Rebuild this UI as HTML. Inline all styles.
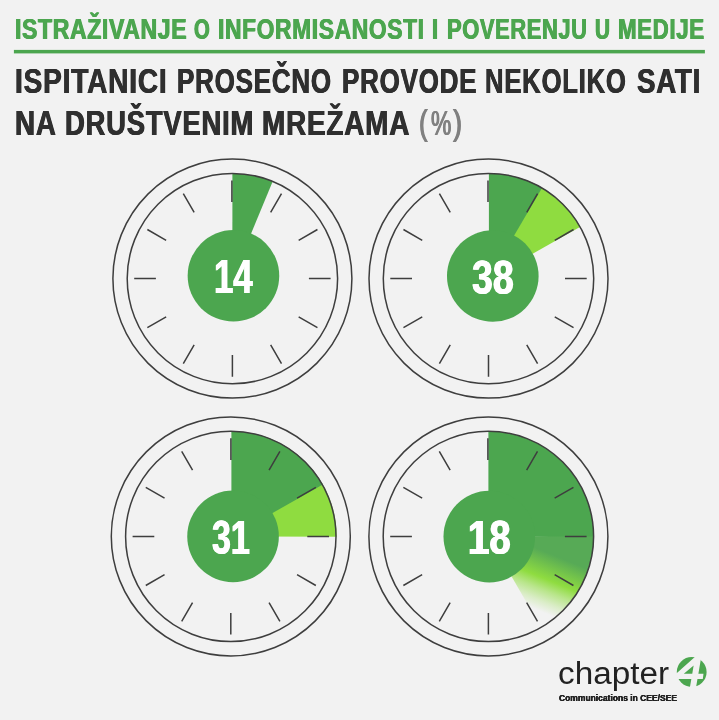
<!DOCTYPE html>
<html lang="sr">
<head>
<meta charset="utf-8">
<title>Istraživanje o informisanosti i poverenju u medije</title>
<style>
html,body{margin:0;padding:0;background:#f2f2f2;}
body{position:relative;width:719px;height:720px;overflow:hidden;font-family:'Liberation Sans', sans-serif;}
svg{position:absolute;left:0;top:0;display:block;}
.t{position:absolute;white-space:nowrap;line-height:1;transform-origin:0 0;margin:0;padding:0;}
</style>
</head>
<body>
<svg width="719" height="720" viewBox="0 0 719 720">
<rect width="719" height="720" fill="#f2f2f2"/>
<rect x="13.9" y="49.9" width="691" height="3.5" fill="#4ca64f"/>

<g>
<path d="M232.40 278.60L232.40 173.40A105.2 105.2 0 0 1 272.66 181.41Z" fill="#4ca64f" />
<path d="M231.90 202.10L231.90 180.40M270.65 212.35L281.50 193.56M298.65 240.35L317.44 229.50M308.90 278.60L330.60 278.60M298.65 316.85L317.44 327.70M270.65 344.85L281.50 363.64M232.40 355.10L232.40 376.80M194.15 344.85L183.30 363.64M166.15 316.85L147.36 327.70M155.90 278.60L134.20 278.60M166.15 240.35L147.36 229.50M194.15 212.35L183.30 193.56" stroke="#3e3e3e" stroke-width="1.5" fill="none"/>
<circle cx="232.4" cy="278.6" r="119.5" fill="none" stroke="#3e3e3e" stroke-width="1.5"/>
<circle cx="232.4" cy="278.6" r="105.2" fill="none" stroke="#3e3e3e" stroke-width="1.5"/>
<circle cx="233.45" cy="275.8" r="45.8" fill="#4ca64f"/>
</g>
<g>
<path d="M488.90 278.60L540.70 187.04A105.2 105.2 0 0 1 580.37 226.64Z" fill="#8fdc40" />
<path d="M488.90 278.60L488.90 173.40A105.2 105.2 0 0 1 542.13 187.86Z" fill="#4ca64f" />
<path d="M488.00 202.10L488.00 180.40M526.75 212.35L537.60 193.56M554.75 240.35L573.54 229.50M565.00 278.60L586.70 278.60M554.75 316.85L573.54 327.70M526.75 344.85L537.60 363.64M488.50 355.10L488.50 376.80M450.25 344.85L439.40 363.64M422.25 316.85L403.46 327.70M412.00 278.60L390.30 278.60M422.25 240.35L403.46 229.50M450.25 212.35L439.40 193.56" stroke="#3e3e3e" stroke-width="1.5" fill="none"/>
<circle cx="488.5" cy="278.6" r="119.5" fill="none" stroke="#3e3e3e" stroke-width="1.5"/>
<circle cx="488.5" cy="278.6" r="105.2" fill="none" stroke="#3e3e3e" stroke-width="1.5"/>
<circle cx="492.8" cy="276.0" r="45.8" fill="#4ca64f"/>
</g>
<g>
<path d="M231.40 536.40L322.04 483.01A105.2 105.2 0 0 1 336.60 536.77Z" fill="#8fdc40" />
<path d="M231.40 536.40L231.40 431.20A105.2 105.2 0 0 1 322.87 484.44Z" fill="#4ca64f" />
<path d="M230.90 459.90L230.90 438.20M269.05 470.15L279.90 451.36M297.05 498.15L315.84 487.30M307.30 536.40L329.00 536.40M297.05 574.65L315.84 585.50M269.05 602.65L279.90 621.44M230.80 612.90L230.80 634.60M192.55 602.65L181.70 621.44M164.55 574.65L145.76 585.50M154.30 536.40L132.60 536.40M164.55 498.15L145.76 487.30M192.55 470.15L181.70 451.36" stroke="#3e3e3e" stroke-width="1.5" fill="none"/>
<circle cx="230.8" cy="536.4" r="119.5" fill="none" stroke="#3e3e3e" stroke-width="1.5"/>
<circle cx="230.8" cy="536.4" r="105.2" fill="none" stroke="#3e3e3e" stroke-width="1.5"/>
<circle cx="233.05" cy="536.4" r="45.8" fill="#4ca64f"/>
</g>
<defs><linearGradient id="g4" gradientUnits="userSpaceOnUse" x1="492.15" y1="527.13" x2="469.67" y2="582.76">
<stop offset="0" stop-color="#57aa56"/>
<stop offset="0.050" stop-color="#57aa56"/>
<stop offset="0.467" stop-color="#8fdc40"/>
<stop offset="0.650" stop-color="#8fdc40" stop-opacity="0.58"/>
<stop offset="0.833" stop-color="#8fdc40" stop-opacity="0.24"/>
<stop offset="1" stop-color="#8fdc40" stop-opacity="0"/>
</linearGradient></defs>
<g>
<path d="M488.40 536.40L488.40 431.20A105.2 105.2 0 0 1 593.59 537.50Z" fill="#4ca64f" />
<path d="M488.40 536.40L593.60 536.40A105.2 105.2 0 0 1 541.00 627.51Z" fill="url(#g4)" />
<path d="M487.90 459.90L487.90 438.20M526.65 470.15L537.50 451.36M554.65 498.15L573.44 487.30M564.90 536.40L586.60 536.40M554.65 574.65L573.44 585.50M526.65 602.65L537.50 621.44M488.40 612.90L488.40 634.60M450.15 602.65L439.30 621.44M422.15 574.65L403.36 585.50M411.90 536.40L390.20 536.40M422.15 498.15L403.36 487.30M450.15 470.15L439.30 451.36" stroke="#3e3e3e" stroke-width="1.5" fill="none"/>
<circle cx="488.4" cy="536.4" r="119.5" fill="none" stroke="#3e3e3e" stroke-width="1.5"/>
<circle cx="488.4" cy="536.4" r="105.2" fill="none" stroke="#3e3e3e" stroke-width="1.5"/>
<circle cx="489.3" cy="536.6" r="45.8" fill="#4ca64f"/>
</g>
<g>
<circle cx="691.7" cy="672.0" r="14.9" fill="#4ca64f"/>
<polygon points="695.11,656.83 701.26,656.83 698.39,673.65 703.48,673.65 702.82,678.98 697.46,678.98 695.93,688.01 689.78,688.01 691.34,678.98 677.64,678.98 676.05,673.65" fill="#f2f2f2"/>
<polygon points="693.63,665.45 683.79,673.65 692.24,673.65" fill="#4ca64f"/>
</g>
</svg>
<div class="t" style="left:14.89px;top:13.70px;font-size:29.3px;font-weight:700;color:#4ca64f;transform:scaleX(0.7861);text-shadow:0.55px 0 0 #4ca64f,-0.55px 0 0 #4ca64f;letter-spacing:0.8px;">ISTRAŽIVANJE</div>
<div class="t" style="left:194.35px;top:13.70px;font-size:29.3px;font-weight:700;color:#4ca64f;transform:scaleX(0.6905);text-shadow:0.55px 0 0 #4ca64f,-0.55px 0 0 #4ca64f;letter-spacing:0.8px;">O</div>
<div class="t" style="left:218.10px;top:13.70px;font-size:29.3px;font-weight:700;color:#4ca64f;transform:scaleX(0.7794);text-shadow:0.55px 0 0 #4ca64f,-0.55px 0 0 #4ca64f;letter-spacing:0.8px;">INFORMISANOSTI</div>
<div class="t" style="left:432.25px;top:13.70px;font-size:29.3px;font-weight:700;color:#4ca64f;transform:scaleX(0.7397);text-shadow:0.55px 0 0 #4ca64f,-0.55px 0 0 #4ca64f;letter-spacing:0.8px;">I</div>
<div class="t" style="left:446.74px;top:13.70px;font-size:29.3px;font-weight:700;color:#4ca64f;transform:scaleX(0.7484);text-shadow:0.55px 0 0 #4ca64f,-0.55px 0 0 #4ca64f;letter-spacing:0.8px;">POVERENJU</div>
<div class="t" style="left:594.92px;top:13.70px;font-size:29.3px;font-weight:700;color:#4ca64f;transform:scaleX(0.7057);text-shadow:0.55px 0 0 #4ca64f,-0.55px 0 0 #4ca64f;letter-spacing:0.8px;">U</div>
<div class="t" style="left:618.12px;top:13.70px;font-size:29.3px;font-weight:700;color:#4ca64f;transform:scaleX(0.7618);text-shadow:0.55px 0 0 #4ca64f,-0.55px 0 0 #4ca64f;letter-spacing:0.8px;">MEDIJE</div>
<div class="t" style="left:15.05px;top:64.21px;font-size:34.6px;font-weight:700;color:#2f2f2f;transform:scaleX(0.8112);text-shadow:0.5px 0 0 #2f2f2f,-0.5px 0 0 #2f2f2f;letter-spacing:1.0px;">ISPITANICI</div>
<div class="t" style="left:176.75px;top:64.21px;font-size:34.6px;font-weight:700;color:#2f2f2f;transform:scaleX(0.7521);text-shadow:0.5px 0 0 #2f2f2f,-0.5px 0 0 #2f2f2f;letter-spacing:1.0px;">PROSEČNO</div>
<div class="t" style="left:341.55px;top:64.21px;font-size:34.6px;font-weight:700;color:#2f2f2f;transform:scaleX(0.7516);text-shadow:0.5px 0 0 #2f2f2f,-0.5px 0 0 #2f2f2f;letter-spacing:1.0px;">PROVODE</div>
<div class="t" style="left:485.46px;top:64.21px;font-size:34.6px;font-weight:700;color:#2f2f2f;transform:scaleX(0.7435);text-shadow:0.5px 0 0 #2f2f2f,-0.5px 0 0 #2f2f2f;letter-spacing:1.0px;">NEKOLIKO</div>
<div class="t" style="left:636.67px;top:64.21px;font-size:34.6px;font-weight:700;color:#2f2f2f;transform:scaleX(0.7996);text-shadow:0.5px 0 0 #2f2f2f,-0.5px 0 0 #2f2f2f;letter-spacing:1.0px;">SATI</div>
<div class="t" style="left:15.06px;top:105.71px;font-size:34.6px;font-weight:700;color:#2f2f2f;transform:scaleX(0.8036);text-shadow:0.5px 0 0 #2f2f2f,-0.5px 0 0 #2f2f2f;letter-spacing:1.0px;">NA</div>
<div class="t" style="left:64.68px;top:105.71px;font-size:34.6px;font-weight:700;color:#2f2f2f;transform:scaleX(0.7926);text-shadow:0.5px 0 0 #2f2f2f,-0.5px 0 0 #2f2f2f;letter-spacing:1.0px;">DRUŠTVENIM</div>
<div class="t" style="left:262.46px;top:105.71px;font-size:34.6px;font-weight:700;color:#2f2f2f;transform:scaleX(0.8066);text-shadow:0.5px 0 0 #2f2f2f,-0.5px 0 0 #2f2f2f;letter-spacing:1.0px;">MREŽAMA</div>
<div class="t" style="left:0;top:0"><span class="t" style="left:419.45px;top:105.71px;font-size:34.6px;font-weight:400;color:#808080;transform:scaleX(0.7548);text-shadow:0.5px 0 0 #808080,-0.5px 0 0 #808080;">(</span><span class="t" style="left:430.58px;top:105.71px;font-size:34.6px;font-weight:400;color:#808080;transform:scaleX(0.6599);text-shadow:0.6px 0 0 #808080,-0.6px 0 0 #808080;">%</span><span class="t" style="left:452.90px;top:105.71px;font-size:34.6px;font-weight:400;color:#808080;transform:scaleX(0.7921);text-shadow:0.5px 0 0 #808080,-0.5px 0 0 #808080;">)</span></div>
<div class="t" style="left:213.70px;top:251.92px;font-size:49.0px;font-weight:700;color:#fff;transform:scaleX(0.7085);text-shadow:0.8px 0 0 #fff,-0.8px 0 0 #fff;">14</div>
<div class="t" style="left:471.93px;top:253.32px;font-size:49.0px;font-weight:700;color:#fff;transform:scaleX(0.7650);text-shadow:0.8px 0 0 #fff,-0.8px 0 0 #fff;">38</div>
<div class="t" style="left:211.92px;top:512.72px;font-size:49.0px;font-weight:700;color:#fff;transform:scaleX(0.6929);text-shadow:0.8px 0 0 #fff,-0.8px 0 0 #fff;">31</div>
<div class="t" style="left:467.83px;top:512.72px;font-size:49.0px;font-weight:700;color:#fff;transform:scaleX(0.7815);text-shadow:0.8px 0 0 #fff,-0.8px 0 0 #fff;">18</div>
<div class="t" style="left:557.56px;top:657.86px;font-size:31px;font-weight:400;color:#222;transform:scaleX(1.0735);">chapter</div>
<div class="t" style="left:558.85px;top:693.92px;font-size:8.6px;font-weight:700;color:#222;transform:scaleX(0.9884);text-shadow:0.2px 0 0 #222,-0.2px 0 0 #222;">Communications in CEE/SEE</div>
</body>
</html>
